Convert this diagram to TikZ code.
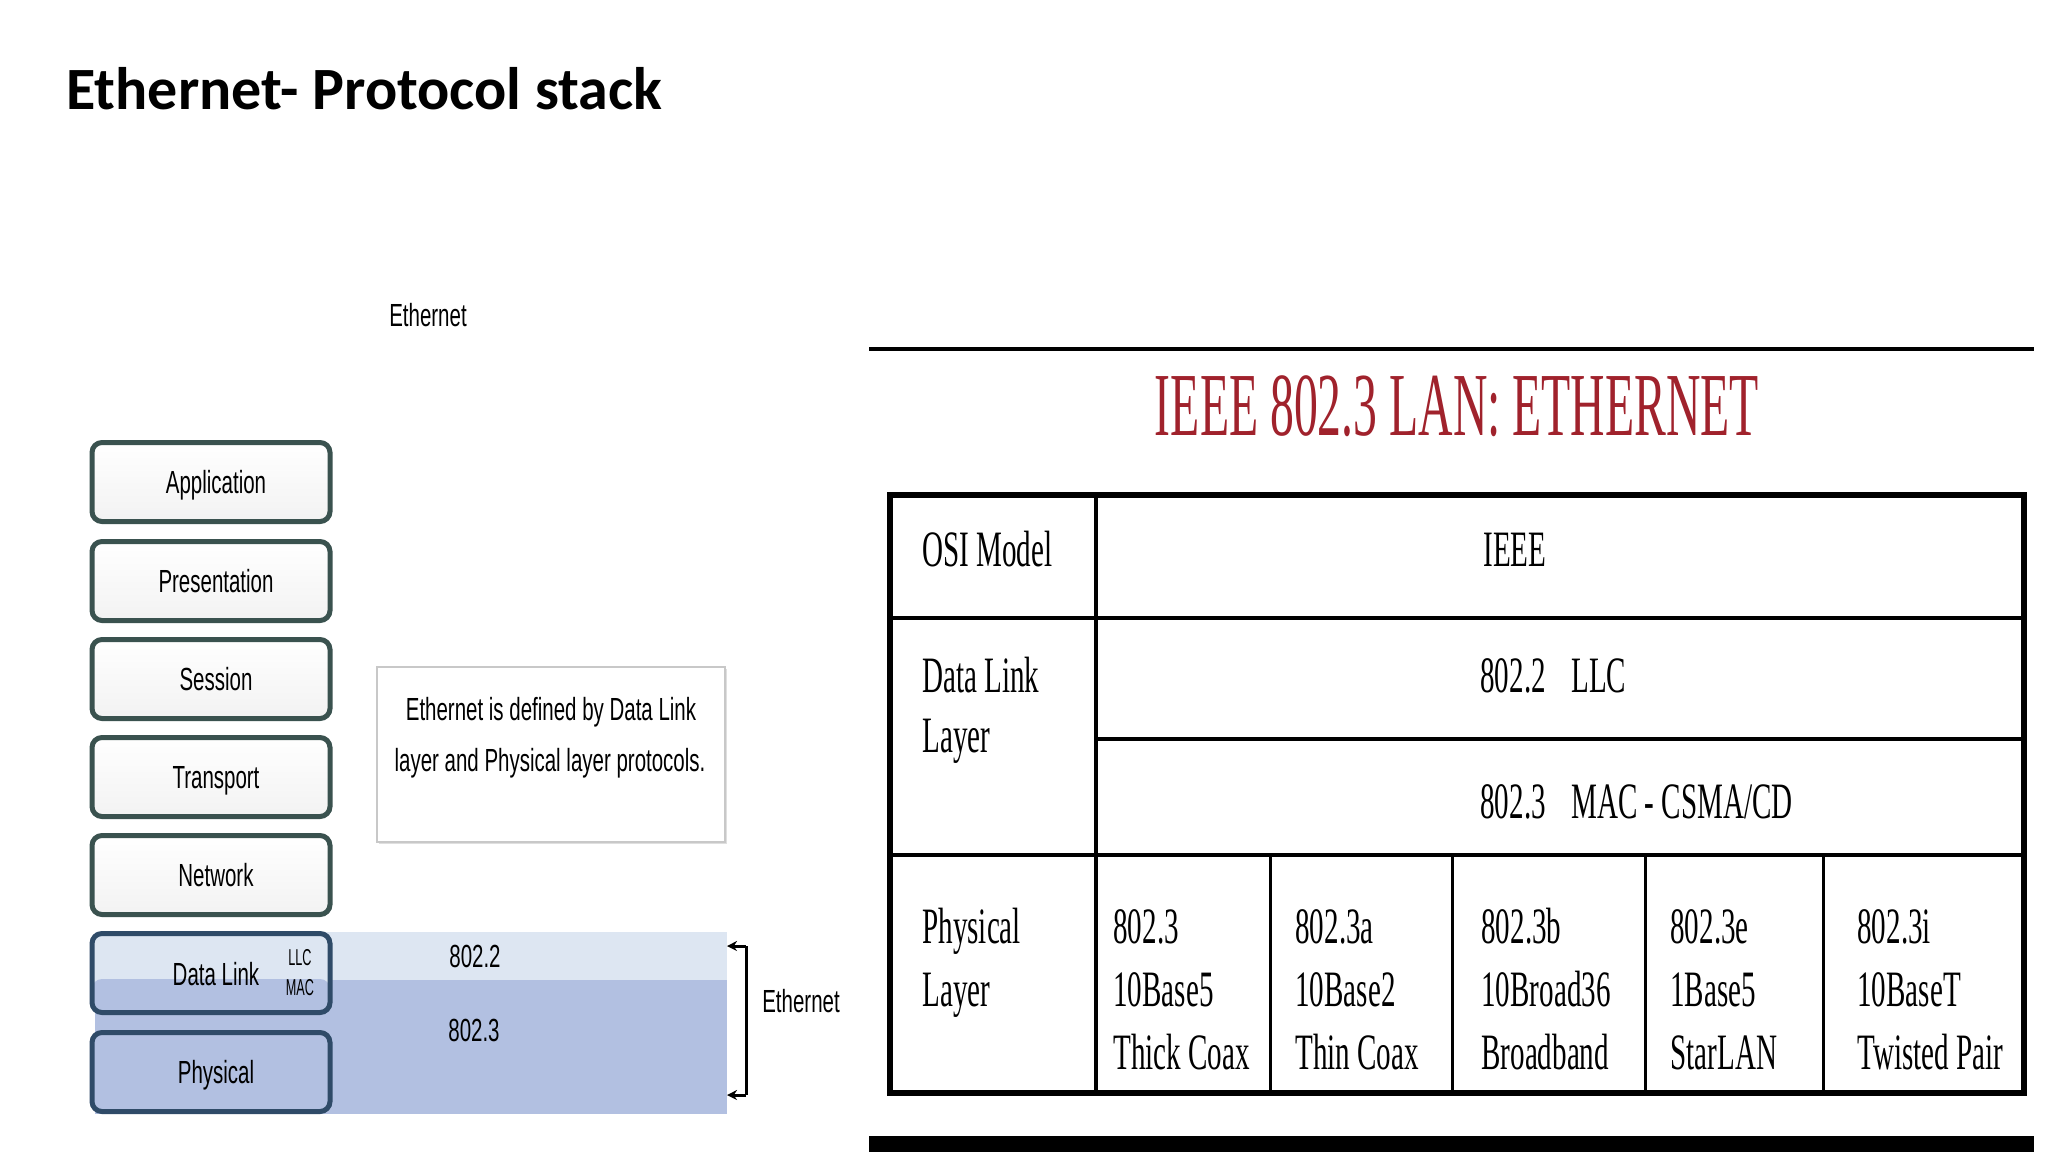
\documentclass[tikz,border=0pt]{standalone}
\usepackage{fontspec}
\setmainfont{Liberation Sans}
\newfontfamily\titlefont{Carlito}
\newfontfamily\narrowfont{Liberation Sans}[FakeStretch=0.64]
\newfontfamily\tinyfont{Liberation Sans}[FakeStretch=0.55]
\newfontfamily\tabfont{Liberation Serif}[FakeStretch=0.57]
\newfontfamily\redfont{Liberation Serif}[FakeStretch=0.53]
\usetikzlibrary{arrows.meta,shadows}
\definecolor{layerborder}{HTML}{3A524F}
\definecolor{blueborder}{HTML}{2F4B68}
\definecolor{llcblue}{HTML}{DDE6F2}
\definecolor{macblue}{HTML}{B2C0E1}
\definecolor{ieeered}{HTML}{A0222C}
\definecolor{boxgrey}{HTML}{C8C8C8}
\begin{document}
\begin{tikzpicture}[x=0.5pt,y=-0.5pt,
  lab/.style={font=\narrowfont\fontsize{16}{19}\selectfont, inner sep=0pt},
  layer/.style={draw=layerborder, line width=2.5pt, rounded corners=5pt,
    minimum width=119pt, minimum height=39.5pt, inner sep=0pt,
    top color=white, bottom color=gray!10,
    text height=11.5pt, text depth=0pt,
    font=\narrowfont\fontsize{16}{19}\selectfont,
    drop shadow={opacity=0.2,shadow xshift=0.8pt,shadow yshift=-0.8pt}},
  bluelayer/.style={layer, draw=blueborder},
  tab/.style={font=\tabfont\fontsize{25.5}{30}\selectfont, inner sep=0pt, anchor=base west},
  outer/.style={line width=3pt},
  inner/.style={line width=2pt},
  thin/.style={line width=1.5pt}]
\useasboundingbox (0,0) rectangle (2048,1152);

% title
\node[anchor=base west, inner sep=0pt, font=\titlefont\bfseries\fontsize{30}{36}\selectfont] (title) at (66,109) {Ethernet- Protocol stack};

% ---------- left diagram ----------
\node[lab, anchor=base] (ethtop) at (428,326) {Ethernet};

% blue band
\fill[llcblue] (95,932) rectangle (727,980);
\fill[macblue] (95,980) rectangle (727,1114);

\node[layer] (app) at (211,482) {\hspace*{5pt}Application};
\node[layer] (pres) at (211,581) {\hspace*{5pt}Presentation};
\node[layer] (sess) at (211,679) {\hspace*{5pt}Session};
\node[layer] (trans) at (211,777) {\hspace*{5pt}Transport};
\node[layer] (net) at (211,875) {\hspace*{5pt}Network};
\node[bluelayer, top color=llcblue, bottom color=llcblue,
  path picture={\fill[macblue] (path picture bounding box.west) ++(0,6) rectangle (path picture bounding box.south east);}]
  (dl) at (211,973) {};
\node[bluelayer, top color=macblue, bottom color=macblue] (phy) at (211,1072) {\hspace*{5pt}Physical};
\node[lab, anchor=base] (dltext) at (216,985) {Data Link};
\node[font=\tinyfont\fontsize{11.5}{13}\selectfont, inner sep=0pt, anchor=base] (llc) at (300,965) {LLC};
\node[font=\tinyfont\fontsize{11.5}{13}\selectfont, inner sep=0pt, anchor=base] (mac) at (300,995) {MAC};

\node[lab, anchor=base] (n8022) at (475,967) {802.2};
\node[lab, anchor=base] (n8023) at (474,1041) {802.3};

% bracket
\coordinate (bt) at (746,946);
\coordinate (bb) at (746,1095);
\coordinate (btl) at (727,946);
\coordinate (bbl) at (727,1095);
\draw[line width=1.5pt] (bt) -- (bb);
\draw[line width=1.5pt,-{Stealth[length=5pt,width=5pt]}] (bt) -- (btl);
\draw[line width=1.5pt,-{Stealth[length=5pt,width=5pt]}] (bb) -- (bbl);
\node[lab, anchor=base] (ethR) at (801,1012) {Ethernet};

% note box
\node[draw=boxgrey, line width=1.2pt, fill=white, minimum width=174pt, minimum height=87.5pt,
  drop shadow={opacity=0.25,shadow xshift=1pt,shadow yshift=-1pt}] (note) at (551,754.5) {};
\node[lab, anchor=base] (note1) at (551,720) {Ethernet is defined by Data Link};
\node[lab, anchor=base] (note2) at (550,771) {layer and Physical layer protocols.};

% ---------- right diagram ----------
\draw[line width=2pt] (869,349) -- (2034,349);
\fill[black] (869,1136) rectangle (2034,1152);

\node[font=\redfont\fontsize{45}{52}\selectfont, text=ieeered, inner sep=0pt, anchor=base] (ieeetitle) at (1457,435) {IEEE 802.3 LAN: ETHERNET};

% table lines
\draw[inner] (890,618) -- (2024,618);
\draw[inner] (1096,739) -- (2024,739);
\draw[inner] (890,855) -- (2024,855);
\draw[inner] (1096,495) -- (1096,1093);
\draw[thin] (1270,855) -- (1270,1093);
\draw[thin] (1452,855) -- (1452,1093);
\draw[thin] (1645,855) -- (1645,1093);
\draw[thin] (1823,855) -- (1823,1093);
\draw[outer] (890,495) rectangle (2024,1093);

% table text
\node[tab] (osi) at (922,566) {OSI Model};
\node[tab, anchor=base] (ieee) at (1515,566) {IEEE};
\node[tab] (dl1) at (922,692) {Data Link};
\node[tab] (dl2) at (922,752) {Layer};
\node[tab] (llcT) at (1480,692) {802.2\enspace LLC};
\node[tab] (macT) at (1480,818) {802.3\enspace MAC - CSMA/CD};
\node[tab] (ph1) at (922,943) {Physical};
\node[tab] (ph2) at (922,1006) {Layer};

\node[tab] (a1) at (1113,943) {802.3};
\node[tab] (a2) at (1113,1006) {10Base5};
\node[tab] (a3) at (1113,1069) {Thick Coax};
\node[tab] (b1) at (1295,943) {802.3a};
\node[tab] (b2) at (1295,1006) {10Base2};
\node[tab] (b3) at (1295,1069) {Thin Coax};
\node[tab] (c1) at (1481,943) {802.3b};
\node[tab] (c2) at (1481,1006) {10Broad36};
\node[tab] (c3) at (1481,1069) {Broadband};
\node[tab] (d1) at (1670,943) {802.3e};
\node[tab] (d2) at (1670,1006) {1Base5};
\node[tab] (d3) at (1670,1069) {StarLAN};
\node[tab] (e1) at (1857,943) {802.3i};
\node[tab] (e2) at (1857,1006) {10BaseT};
\node[tab] (e3) at (1857,1069) {Twisted Pair};
\end{tikzpicture}
\end{document}
